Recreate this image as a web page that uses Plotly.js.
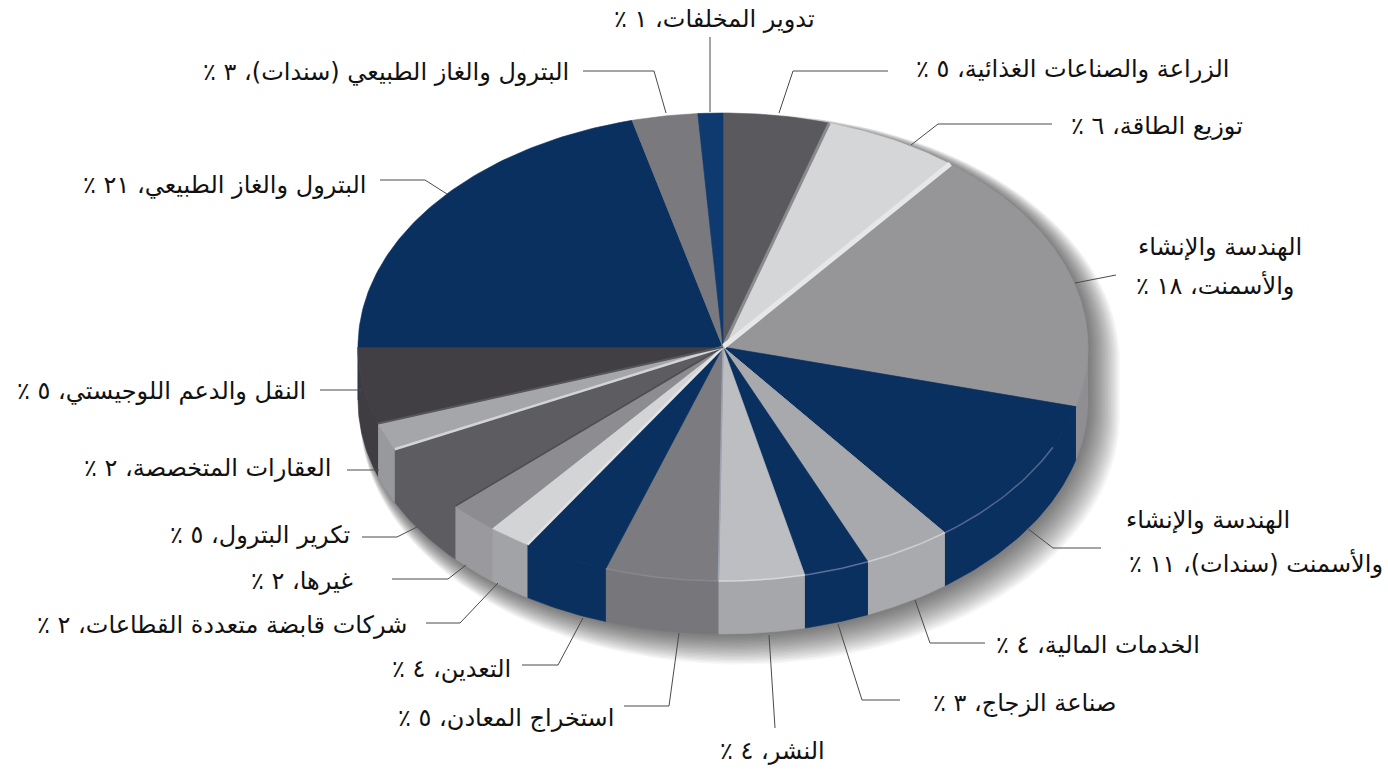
<!DOCTYPE html>
<html>
<head>
<meta charset="utf-8">
<script src="https://cdn.plot.ly/plotly-3.0.1.min.js"></script>
<style>html,body{margin:0;padding:0;background:#fff}#chart{width:1388px;height:769px}</style>
</head>
<body>
<div id="chart"></div>
<script>
// ---- data (clockwise from 12 o'clock) ----
var sectorNames = [
  "الزراعة والصناعات الغذائية",
  "توزيع الطاقة",
  "الهندسة والإنشاء<br>والأسمنت",
  "الهندسة والإنشاء<br>والأسمنت (سندات)",
  "الخدمات المالية",
  "صناعة الزجاج",
  "النشر",
  "استخراج المعادن",
  "التعدين",
  "شركات قابضة متعددة القطاعات",
  "غيرها",
  "تكرير البترول",
  "العقارات المتخصصة",
  "النقل والدعم اللوجيستي",
  "البترول والغاز الطبيعي",
  "البترول والغاز الطبيعي (سندات)",
  "تدوير المخلفات"
];
var percentLabels = ["٥","٦","١٨","١١","٤","٣","٤","٥","٤","٢","٢","٥","٢","٥","٢١","٣","١"];
var sliceShares = [4.7,6,18.4,10.5,3.9,2.9,3.8,5,3.8,1.9,2.2,4.7,1.9,5.3,21,2.9,1.1];
var topColors  = ["#5a595d","#d5d6d8","#969699","#0a3060","#a8a9ad","#0a3060","#bcbec2","#7c7c80","#0a3060","#d2d4d6","#8d8d91","#5d5c60","#a5a6aa","#413f44","#0a3060","#7a7a7e","#0f3a70"];
var sideColors = ["#5a595d","#d5d6d8","#8f8f93","#0a3060","#a9aaae","#0a3060","#a6a7ab","#77777b","#0a3060","#a2a3a7","#9a9a9e","#5d5c60","#98999d","#3f3d42","#0a3060","#7a7a7e","#0f3a70"];

// ---- layout of the drawing ----
var W = 1388, H = 769;
var centre = {x: 723, y: 347, rx: 365, ry: 234, depth: 53};
var fontFamily = "'DejaVu Sans', sans-serif";
var fontSize = 24;
// [right end x, middle y] of every text line of a label
var labelAnchors = [
  [[1232,69]],[[1245,126]],[[1304,247],[1296,285]],[[1292,520],[1385,563]],[[1202,645]],[[1118,703]],[[827,751]],[[616,718]],
  [[513,669]],[[409,625]],[[355,581]],[[352,535]],[[333,468]],[[308,391]],[[368,185]],[[571,72]],[[817,19]]
];
var leaderPaths = [
  [[779,113],[793,71],[888,71]],
  [[911,145],[938,124],[1052,124]],
  [[1075,283],[1116,275]],
  [[1027,528],[1053,548],[1101,548]],
  [[915,600],[930,643],[985,643]],
  [[838,624],[862,700],[900,700]],
  [[769,635],[775,728]],
  [[679,633],[669,706],[624,706]],
  [[583,618],[558,665],[522,665]],
  [[498,583],[460,623],[426,623]],
  [[466,565],[448,579],[392,579]],
  [[417,527],[397,537],[362,537]],
  [[379,470],[347,470]],
  [[362,390],[320,390]],
  [[447,194],[425,180],[380,180]],
  [[666,113],[654,71],[583,71]],
  [[710,37],[710,112]]
];
// boundary index (after slice i), colour, width of the bevel along a sector edge
var edgeBevels = [[0,"#8b8b8e",3],[1,"#e6e7e8",5],[3,"#a6a7ab",1],[6,"#9ea3b4",1.5],[8,"#e2e3e5",2.5],[10,"#4e4d51",1.5],[11,"#d3d4d6",2.5],[12,"#57565a",2],[14,"#7a7a7e",1]];
// rim highlights: [slice index, fraction of the slice where it starts, colour]
var rimGlints = [[3,0.28,"#54678f"],[4,0,"#cdced2"],[5,0,"#5d6f97"],[6,0,"#d6d7da"],[7,0,"#88888c"]];

function rimPoint(share, dy, grow, ox, oy) {
  var t = 2 * Math.PI * share / 100;
  grow = grow || 0;
  return [centre.x + (ox || 0) + (centre.rx + grow) * Math.sin(t),
          centre.y + (oy || 0) + (dy || 0) - (centre.ry + grow) * Math.cos(t)];
}
function sampleArc(a, b, dy) {
  var pts = [], n = Math.max(2, Math.ceil(Math.abs(b - a) / 0.25));
  for (var i = 0; i <= n; i++) pts.push(rimPoint(a + (b - a) * i / n, dy));
  return pts;
}
function polyTrace(pts, fill, lineColor, lw) {
  return {type: "scatter", mode: "lines", x: pts.map(function (p) { return p[0]; }), y: pts.map(function (p) { return p[1]; }),
    fill: "toself", fillcolor: fill, line: {color: lineColor || fill, width: lw === undefined ? 0.6 : lw}, hoverinfo: "skip", showlegend: false};
}
function lineTrace(pts, color, width) {
  return {type: "scatter", mode: "lines", x: pts.map(function (p) { return p[0]; }), y: pts.map(function (p) { return p[1]; }),
    line: {color: color, width: width}, hoverinfo: "skip", showlegend: false};
}

var traces = [];
// soft drop shadow under the disc
for (var g = 15; g >= 0; g -= 0.75) {
  var sh = [];
  for (var s = 0; s <= 100; s += 0.5) {
    var dy = (s >= 25 && s <= 75) ? centre.depth : 0;
    sh.push(rimPoint(s, dy, g, g + 2, g * 0.9 + 2));
  }
  traces.push(polyTrace(sh, "rgba(30,30,30,0.035)", "rgba(0,0,0,0)", 0));
}
// cumulative boundaries
var cum = [0];
sliceShares.forEach(function (v) { cum.push(cum[cum.length - 1] + v); });
// side walls
sliceShares.forEach(function (v, i) {
  var a = Math.max(cum[i], 25), b = Math.min(cum[i + 1], 75);
  if (b > a) traces.push(polyTrace(sampleArc(a, b, 0).concat(sampleArc(b, a, centre.depth)), sideColors[i]));
});
// top faces
sliceShares.forEach(function (v, i) {
  traces.push(polyTrace([[centre.x, centre.y]].concat(sampleArc(cum[i], cum[i + 1], 0)).concat([[centre.x, centre.y]]), topColors[i]));
});
// bevels along sector edges
edgeBevels.forEach(function (e) {
  traces.push(lineTrace([[centre.x, centre.y], rimPoint(cum[e[0] + 1], 0)], e[1], e[2]));
});
// glints along the front rim
rimGlints.forEach(function (r) {
  var i = r[0];
  traces.push(lineTrace(sampleArc(cum[i] + (cum[i + 1] - cum[i]) * r[1], cum[i + 1], 0), r[2], 1.5));
});
// leader lines
leaderPaths.forEach(function (p) { traces.push(lineTrace(p, "#4a4a4a", 1)); });

var annotations = [];
sectorNames.forEach(function (name, i) {
  var lines = name.split("<br>");
  lines[lines.length - 1] += "، " + percentLabels[i] + " ٪";
  lines.forEach(function (line, k) {
    annotations.push({
      x: labelAnchors[i][k][0], y: labelAnchors[i][k][1], xref: "x", yref: "y",
      xanchor: "right", yanchor: "middle", align: "right", showarrow: false,
      text: "\u200F" + line + "\u200F",
      font: {family: fontFamily, size: fontSize, color: "#111111"}
    });
  });
});

Plotly.newPlot("chart", traces, {
  width: W, height: H, margin: {l: 0, r: 0, t: 0, b: 0},
  paper_bgcolor: "#fff", plot_bgcolor: "#fff", showlegend: false,
  xaxis: {range: [0, W], visible: false, fixedrange: true},
  yaxis: {range: [H, 0], visible: false, fixedrange: true},
  annotations: annotations
}, {displayModeBar: false, staticPlot: true});
</script>
</body>
</html>
